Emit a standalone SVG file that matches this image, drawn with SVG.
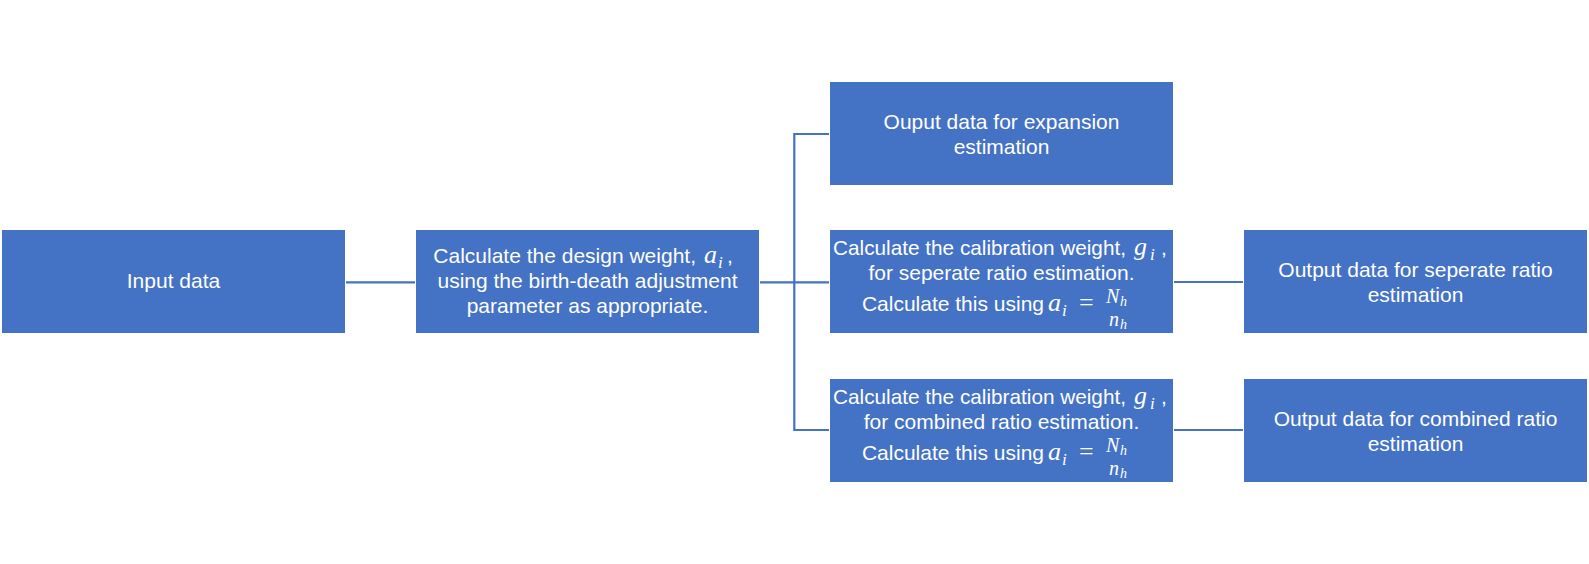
<svg xmlns="http://www.w3.org/2000/svg" width="1589" height="564" viewBox="0 0 1589 564">
<style>
.box{fill:#4472C4}
.t{font-family:"Liberation Sans",Arial,sans-serif;font-size:21px;fill:#ffffff}
.c{text-anchor:middle}
.e{text-anchor:end}
.m{font-family:"Liberation Serif","DejaVu Serif",serif;font-style:italic;fill:#ffffff;font-size:26px}
.ms{font-family:"Liberation Serif","DejaVu Serif",serif;font-style:italic;fill:#ffffff;font-size:17px}
.mr{font-family:"Liberation Serif","DejaVu Serif",serif;fill:#ffffff;font-size:26px}
.mf{font-family:"Liberation Serif","DejaVu Serif",serif;font-style:italic;fill:#ffffff;font-size:20px}
.mfs{font-family:"Liberation Serif","DejaVu Serif",serif;font-style:italic;fill:#ffffff;font-size:14px}
.ln{stroke:#4472C4;stroke-width:2.2;fill:none}
</style>
<rect width="1589" height="564" fill="#ffffff"/>
<g id="connectors">
<line class="ln" x1="346" y1="282.3" x2="415" y2="282.3"/>
<line class="ln" x1="760" y1="282.3" x2="829" y2="282.3"/>
<polyline class="ln" points="829,134 794.3,134 794.3,430 829,430"/>
<line class="ln" x1="1174" y1="282" x2="1243" y2="282"/>
<line class="ln" x1="1174" y1="430" x2="1243" y2="430"/>
</g>
<g id="input">
<rect class="box" x="2" y="230" width="343" height="103"/>
<text class="t c" x="173.5" y="288">Input data</text>
</g>
<g id="design">
<rect class="box" x="416" y="230" width="343" height="103"/>
<text class="t e" x="696" y="263">Calculate the design weight,</text>
<text class="m" x="704" y="263">a</text><text class="ms" x="718" y="268">i</text>
<text class="t" x="727" y="263">,</text>
<text class="t c" x="587.5" y="288">using the birth-death adjustment</text>
<text class="t c" x="587.5" y="313">parameter as appropriate.</text>
</g>
<g id="expansion">
<rect class="box" x="830" y="82" width="343" height="103"/>
<text class="t c" x="1001.5" y="129">Ouput data for expansion</text>
<text class="t c" x="1001.5" y="154">estimation</text>
</g>
<g id="separate-calib">
<rect class="box" x="830" y="230" width="343" height="103"/>
<text class="t" x="833" y="255" textLength="293" lengthAdjust="spacingAndGlyphs">Calculate the calibration weight,</text>
<text class="m" x="1134" y="255">g</text><text class="ms" x="1150" y="260">i</text>
<text class="t" x="1161" y="255">,</text>
<text class="t c" x="1001.5" y="280">for seperate ratio estimation.</text>
<text class="t e" x="1044" y="311">Calculate this using</text>
<text class="m" x="1048" y="311">a</text><text class="ms" x="1062" y="316">i</text>
<text class="mr" x="1079" y="311">=</text>
<text class="mf" x="1106" y="303">N</text><text class="mfs" x="1120" y="306">h</text>
<text class="mf" x="1109" y="326">n</text><text class="mfs" x="1120" y="329">h</text>
</g>
<g id="combined-calib">
<rect class="box" x="830" y="379" width="343" height="103"/>
<text class="t" x="833" y="404" textLength="293" lengthAdjust="spacingAndGlyphs">Calculate the calibration weight,</text>
<text class="m" x="1134" y="404">g</text><text class="ms" x="1150" y="409">i</text>
<text class="t" x="1161" y="404">,</text>
<text class="t c" x="1001.5" y="429">for combined ratio estimation.</text>
<text class="t e" x="1044" y="460">Calculate this using</text>
<text class="m" x="1048" y="460">a</text><text class="ms" x="1062" y="465">i</text>
<text class="mr" x="1079" y="460">=</text>
<text class="mf" x="1106" y="452">N</text><text class="mfs" x="1120" y="455">h</text>
<text class="mf" x="1109" y="475">n</text><text class="mfs" x="1120" y="478">h</text>
</g>
<g id="separate-out">
<rect class="box" x="1244" y="230" width="343" height="103"/>
<text class="t c" x="1415.5" y="277">Output data for seperate ratio</text>
<text class="t c" x="1415.5" y="302">estimation</text>
</g>
<g id="combined-out">
<rect class="box" x="1244" y="379" width="343" height="103"/>
<text class="t c" x="1415.5" y="426">Output data for combined ratio</text>
<text class="t c" x="1415.5" y="451">estimation</text>
</g>
</svg>
